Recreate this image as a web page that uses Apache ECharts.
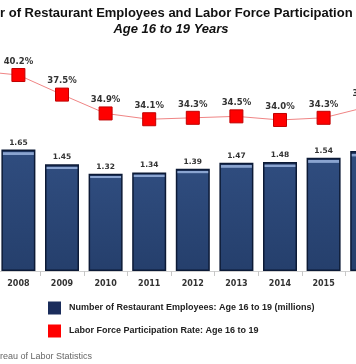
<!DOCTYPE html>
<html>
<head>
<meta charset="utf-8">
<script src="https://cdn.jsdelivr.net/npm/echarts@6/dist/echarts.min.js"></script>
<style>
html,body{margin:0;padding:0;background:#fff;overflow:hidden;width:356px;height:364px;position:relative;}
#chart{position:absolute;left:-47px;top:0;width:436px;height:364px;}
</style>
</head>
<body>
<div id="chart"></div>
<script>
var years = ['2007','2008','2009','2010','2011','2012','2013','2014','2015','2016'];
var employees = [1.80, 1.65, 1.45, 1.32, 1.34, 1.39, 1.47, 1.48, 1.54, 1.63];
var participation = [40.8, 40.2, 37.5, 34.9, 34.1, 34.3, 34.5, 34.0, 34.3, 35.8];
var seriesNames = ['Number of Restaurant Employees: Age 16 to 19 (millions)', 'Labor Force Participation Rate: Age 16 to 19'];
var titleText = 'Number of Restaurant Employees and Labor Force Participation Rate';
var subtitleText = 'Age 16 to 19 Years';
var sourceText = 'Source: Bureau of Labor Statistics';

var OFF = 47; // chart canvas is shifted left by this many px (the reference is a crop)
var chart = echarts.init(document.getElementById('chart'), null, {renderer: 'canvas'});
var barGrad = new echarts.graphic.LinearGradient(0, 0, 0, 1, [
  {offset: 0, color: '#1e3560'},
  {offset: 0.02, color: '#1e3560'},
  {offset: 0.025, color: '#8aa4d0'},
  {offset: 0.042, color: '#8aa4d0'},
  {offset: 0.048, color: '#2f4c7e'},
  {offset: 1, color: '#253f6c'}
]);
chart.setOption({
  animation: false,
  backgroundColor: '#ffffff',
  graphic: [
    {type: 'text', x: OFF - 44, y: 7, style: {text: titleText, font: 'bold 13px "Liberation Sans", Arial, sans-serif', fill: '#111'}},
    {type: 'text', x: OFF + 171, y: 23, style: {text: subtitleText, textAlign: 'center', font: 'italic bold 13px "Liberation Sans", Arial, sans-serif', fill: '#111'}},
    {type: 'text', x: OFF - 44.5, y: 352, style: {text: sourceText, font: '9px "Liberation Sans", Arial, sans-serif', fill: '#666'}}
  ],
  legend: {
    orient: 'vertical',
    left: OFF + 48,
    top: 301.5,
    padding: 0,
    itemWidth: 13,
    itemHeight: 13,
    itemGap: 10,
    icon: 'rect',
    textStyle: {fontFamily: '"Liberation Sans", Arial, sans-serif', fontWeight: 'bold', fontSize: 9, color: '#222', padding: [0, 0, 0, 3]},
    data: [
      {name: seriesNames[0], itemStyle: {color: '#1a2c5b', borderWidth: 0}},
      {name: seriesNames[1], itemStyle: {color: '#ff0000', borderWidth: 0}}
    ]
  },
  grid: {left: 0, right: 0, top: 40, bottom: 93, containLabel: false},
  xAxis: {
    type: 'category',
    data: years,
    axisLine: {show: true, lineStyle: {color: '#d0d0d0', width: 1}},
    axisTick: {show: true, alignWithLabel: false, length: 5, lineStyle: {color: '#c8c8c8'}},
    axisLabel: {margin: 9, fontFamily: '"DejaVu Sans", Verdana, sans-serif', fontWeight: 'bold', fontSize: 8, color: '#333', interval: 0},
    splitLine: {show: false}
  },
  yAxis: [
    {type: 'value', min: 0, max: 3.1386, show: false, splitLine: {show: false}},
    {type: 'value', min: 13.17, max: 45.03, show: false, splitLine: {show: false}}
  ],
  series: [
    {
      name: seriesNames[0],
      type: 'bar',
      yAxisIndex: 0,
      data: employees,
      barWidth: 34,
      itemStyle: {color: barGrad, borderColor: '#0c1a36', borderWidth: 1.5},
      label: {show: true, position: 'top', distance: 3, formatter: function (p) { return p.value.toFixed(2); },
        fontFamily: '"DejaVu Sans", Verdana, sans-serif', fontWeight: 'bold', fontSize: 7.5, color: '#333'}
    },
    {
      name: seriesNames[1],
      type: 'line',
      yAxisIndex: 1,
      data: participation,
      symbol: 'rect',
      symbolSize: 13,
      lineStyle: {color: '#f08585', width: 1},
      itemStyle: {color: '#ff0000', borderColor: '#c00000', borderWidth: 1},
      label: {show: true, position: 'top', distance: 2, formatter: function (p) { return p.value.toFixed(1) + '%'; },
        fontFamily: '"DejaVu Sans", Verdana, sans-serif', fontWeight: 'bold', fontSize: 8.5, color: '#333'}
    }
  ]
});
</script>
</body>
</html>
